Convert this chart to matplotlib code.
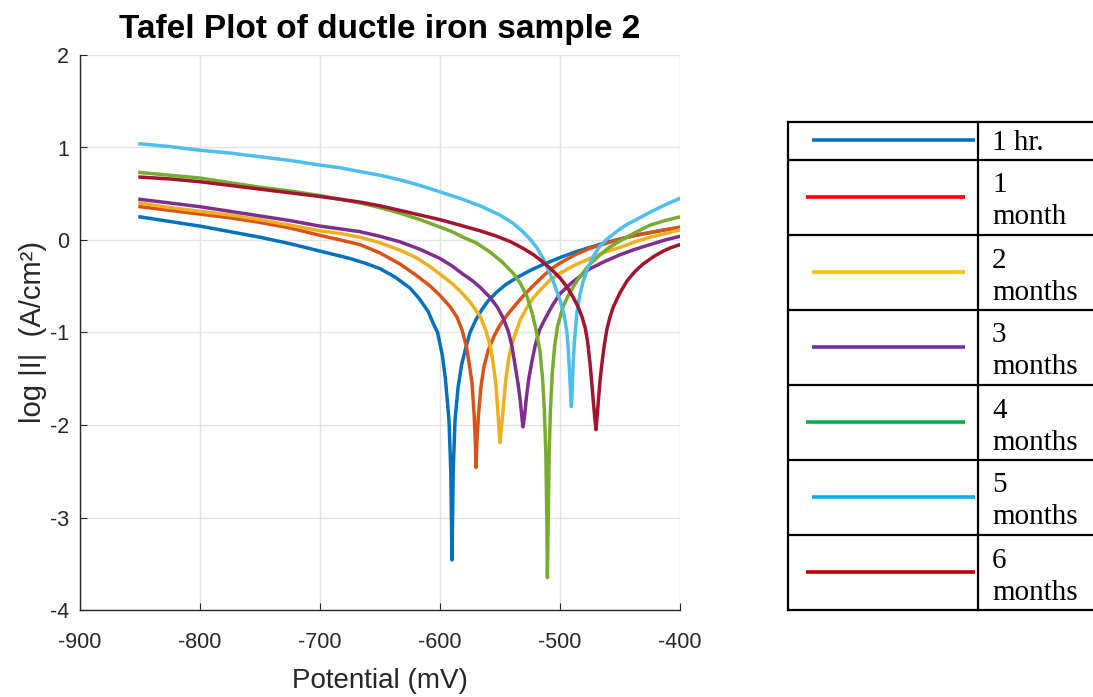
import matplotlib
matplotlib.use("Agg")
import matplotlib.pyplot as plt

plt.rcParams["axes.unicode_minus"] = False

# ---------------- data ----------------
series_labels = ["1 hr.", "1\nmonth", "2\nmonths", "3\nmonths", "4\nmonths", "5\nmonths", "6\nmonths"]

x_1hr = [-850, -825, -800, -775, -750, -725, -700, -687.5, -675, -662.5, -650, -637.5, -625,
         -617.5, -610, -605, -602, -598, -595.5, -592.5, -591, -590, -589, -587.5, -585, -582,
         -579, -575, -570, -565, -560, -552.5, -545, -535, -525, -515, -500, -487.5, -475,
         -462.5, -450, -437.5, -425, -412.5, -400]
y_1hr = [0.25, 0.20, 0.15, 0.09, 0.03, -0.04, -0.12, -0.16, -0.20, -0.25, -0.31, -0.40, -0.52,
         -0.63, -0.77, -0.92, -1.00, -1.25, -1.50, -1.95, -2.50, -3.46, -2.50, -1.95, -1.60, -1.35,
         -1.19, -1.00, -0.86, -0.75, -0.66, -0.56, -0.48, -0.40, -0.33, -0.27, -0.19, -0.13, -0.08,
         -0.03, 0.01, 0.05, 0.08, 0.11, 0.13]

x_1m = [-850, -825, -800, -775, -750, -725, -700, -683, -666.7, -650, -633.3, -620, -608, -600,
        -591.7, -586, -581.7, -578, -575.5, -573.3, -571.5, -570.5, -570, -569.3, -568, -566,
        -563.5, -560, -555, -550, -544, -537, -531, -522, -514, -507, -500, -487.5, -475,
        -462.5, -450, -437.5, -425, -412.5, -400]
y_1m = [0.36, 0.32, 0.28, 0.24, 0.19, 0.13, 0.05, 0.00, -0.05, -0.14, -0.26, -0.38, -0.50, -0.60,
        -0.72, -0.83, -0.97, -1.15, -1.35, -1.55, -1.90, -2.20, -2.46, -2.20, -1.90, -1.60,
        -1.38, -1.20, -1.04, -0.92, -0.81, -0.70, -0.61, -0.49, -0.39, -0.31, -0.25, -0.16, -0.09,
        -0.04, 0.01, 0.05, 0.08, 0.11, 0.14]

x_2m = [-850, -825, -800, -775, -750, -725, -700, -683, -666.7, -650, -633.3, -620, -608, -600,
        -590, -583.3, -575, -566.7, -562, -558, -555.5, -553.5, -551.8, -550.8, -550, -549,
        -547.5, -545.5, -543, -540, -536, -533, -528, -522.5, -515, -508, -500, -487.5, -475,
        -462.5, -450, -437.5, -425, -412.5, -400]
y_2m = [0.40, 0.35, 0.31, 0.27, 0.22, 0.16, 0.10, 0.07, 0.03, -0.03, -0.11, -0.19, -0.29, -0.37,
        -0.47, -0.55, -0.67, -0.82, -0.97, -1.15, -1.35, -1.55, -1.85, -2.05, -2.19, -2.05,
        -1.85, -1.55, -1.30, -1.12, -0.97, -0.86, -0.74, -0.63, -0.52, -0.43, -0.36, -0.27, -0.20,
        -0.13, -0.08, -0.02, 0.03, 0.07, 0.11]

x_3m = [-850, -825, -800, -775, -750, -725, -700, -683, -666.7, -650, -633.3, -616.7, -600, -590,
        -580.8, -573, -566.7, -558.3, -552, -547.5, -543, -540, -537.5, -535, -533, -531.5,
        -530.8, -529.5, -528, -526, -523.5, -520.5, -517, -512, -506, -500, -490, -475,
        -462.5, -450, -437.5, -425, -412.5, -400]
y_3m = [0.44, 0.40, 0.36, 0.31, 0.26, 0.21, 0.15, 0.12, 0.09, 0.04, -0.02, -0.10, -0.20, -0.28,
        -0.37, -0.44, -0.51, -0.62, -0.73, -0.84, -0.99, -1.15, -1.35, -1.55, -1.75, -1.95,
        -2.02, -1.90, -1.70, -1.50, -1.32, -1.13, -0.97, -0.84, -0.70, -0.58, -0.46, -0.31,
        -0.23, -0.16, -0.10, -0.05, 0.00, 0.04]

x_4m = [-850, -825, -800, -775, -750, -725, -700, -683, -666.7, -650, -633.3, -616.7, -600, -590,
        -580.8, -570, -558.3, -548, -539, -533, -527.5, -523, -519.5, -516.7, -514.5, -513,
        -511.8, -511, -510.5, -509.8, -509, -508, -506.5, -504.5, -502, -497.5, -492, -485.8,
        -480, -475, -467.5, -460, -450, -437.5, -425, -412.5, -400]
y_4m = [0.73, 0.70, 0.67, 0.62, 0.57, 0.53, 0.48, 0.44, 0.40, 0.35, 0.29, 0.22, 0.14, 0.09,
        0.03, -0.03, -0.13, -0.24, -0.36, -0.47, -0.61, -0.80, -1.00, -1.20, -1.50, -1.85,
        -2.30, -3.00, -3.65, -3.00, -2.30, -1.85, -1.45, -1.15, -0.93, -0.72, -0.57, -0.44,
        -0.34, -0.26, -0.17, -0.09, -0.01, 0.08, 0.16, 0.21, 0.25]

x_5m = [-850, -825, -800, -775, -750, -725, -700, -683, -666.7, -650, -633.3, -616.7, -600,
        -583.3, -566.7, -550, -539, -531, -525, -519, -514, -509.5, -505.8, -502.5, -500,
        -497.5, -495.8, -494.2, -493, -492, -491, -490.5, -489.8, -489, -488, -487, -485.8,
        -483.5, -480.8, -477, -472.5, -467, -460.8, -452, -444, -435, -425, -412.5, -400]
y_5m = [1.04, 1.01, 0.97, 0.94, 0.90, 0.86, 0.81, 0.78, 0.74, 0.70, 0.65, 0.59, 0.52,
        0.45, 0.37, 0.27, 0.18, 0.09, 0.01, -0.09, -0.20, -0.33, -0.44, -0.56, -0.65,
        -0.76, -0.87, -1.00, -1.20, -1.45, -1.70, -1.80, -1.60, -1.33, -1.10, -0.95, -0.77,
        -0.60, -0.45, -0.31, -0.18, -0.07, 0.01, 0.10, 0.17, 0.23, 0.30, 0.38, 0.45]

x_6m = [-850, -825, -800, -775, -750, -725, -700, -683, -666.7, -650, -633.3, -616.7, -600,
        -583.3, -566.7, -552.5, -541, -530.8, -522, -514, -507, -500, -494, -489, -485,
        -481.7, -479, -477, -475, -473.5, -472, -470.8, -470, -469, -467.8, -466.5, -465,
        -463, -461, -458.5, -455.8, -450, -444, -437.5, -430.8, -422, -414, -407, -400]
y_6m = [0.68, 0.66, 0.63, 0.59, 0.55, 0.51, 0.47, 0.44, 0.41, 0.37, 0.32, 0.27, 0.22,
        0.16, 0.10, 0.04, -0.02, -0.09, -0.16, -0.24, -0.32, -0.41, -0.51, -0.62, -0.72,
        -0.83, -0.95, -1.10, -1.33, -1.55, -1.78, -1.95, -2.05, -1.90, -1.70, -1.50, -1.33,
        -1.13, -0.97, -0.84, -0.73, -0.57, -0.44, -0.34, -0.26, -0.18, -0.12, -0.08, -0.05]

xs = [x_1hr, x_1m, x_2m, x_3m, x_4m, x_5m, x_6m]
ys = [y_1hr, y_1m, y_2m, y_3m, y_4m, y_5m, y_6m]

x_ticks = [-900, -800, -700, -600, -500, -400]
y_ticks = [-4, -3, -2, -1, 0, 1, 2]

line_colors = ["#0072BD", "#D95319", "#EDB120", "#7E2F8E", "#77AC30", "#4DBEEE", "#A2142F"]
legend_colors = ["#0070C0", "#FF0000", "#FFC000", "#7030A0", "#00B050", "#00B0F0", "#C00000"]

sans = ["Liberation Sans", "DejaVu Sans"]
serif = ["Liberation Serif", "DejaVu Serif"]

W, H = 1093, 697
fig = plt.figure(figsize=(W / 100, H / 100), dpi=100)
ax = fig.add_axes([80 / W, 1 - 610 / H, 600 / W, 555 / H])

for x, y, c in zip(xs, ys, line_colors):
    ax.plot(x, y, color=c, lw=2.5, solid_joinstyle="round")

ax.set_xlim(-900, -400)
ax.set_ylim(-4, 2)
ax.set_xticks(x_ticks)
ax.set_yticks(y_ticks)
ax.grid(True, color="#e3e3e3", lw=1.0)
ax.set_axisbelow(True)
for s in ["top", "right"]:
    ax.spines[s].set_visible(False)
for s in ["left", "bottom"]:
    ax.spines[s].set_color("#262626")
    ax.spines[s].set_linewidth(1.0)
ax.tick_params(direction="in", length=5, color="#262626", labelcolor="#262626")
ax.tick_params(axis="x", pad=16)
ax.tick_params(axis="y", pad=8)
for lab in ax.get_xticklabels() + ax.get_yticklabels():
    lab.set_fontfamily(sans)
    lab.set_fontsize(15.5)

ax.set_xlabel("Potential (mV)", family=sans, fontsize=20, color="#262626", labelpad=11)
ax.set_ylabel("log |I|  (A/cm²)", family=sans, fontsize=21, color="#262626", labelpad=2)
ax.set_title("Tafel Plot of ductle iron sample 2", family=sans, fontsize=24,
             fontweight="bold", pad=12)

# ---------------- legend table ----------------
lax = fig.add_axes([0, 0, 1, 1])
lax.set_xlim(0, W)
lax.set_ylim(H, 0)
lax.axis("off")
lax.patch.set_alpha(0)

row_edges = [122, 160, 235, 310, 385, 460, 535, 610]
left, right, divider = 788, 1098, 978
for yy in row_edges:
    lax.plot([left - 1, right], [yy, yy], color="black", lw=1.6, solid_capstyle="butt")
lax.plot([left, left], [row_edges[0], row_edges[-1]], color="black", lw=1.6)
lax.plot([divider, divider], [row_edges[0], row_edges[-1]], color="black", lw=1.6)

seg_starts = [812, 806, 812, 812, 806, 812, 806]
seg_ends = [975, 965, 965, 965, 965, 975, 975]
for i, (lab, c) in enumerate(zip(series_labels, legend_colors)):
    top, bot = row_edges[i], row_edges[i + 1]
    ymid = (top + bot) / 2
    lax.plot([seg_starts[i], seg_ends[i]], [ymid - 1, ymid - 1], color=c, lw=2.6,
             solid_capstyle="butt")
    dy = 2 if i == 0 else 4
    lax.text(992, ymid + dy, lab, family=serif, fontsize=21, va="center", ha="left",
             linespacing=1.3, color="black")

fig.savefig("out.png", dpi=100)
